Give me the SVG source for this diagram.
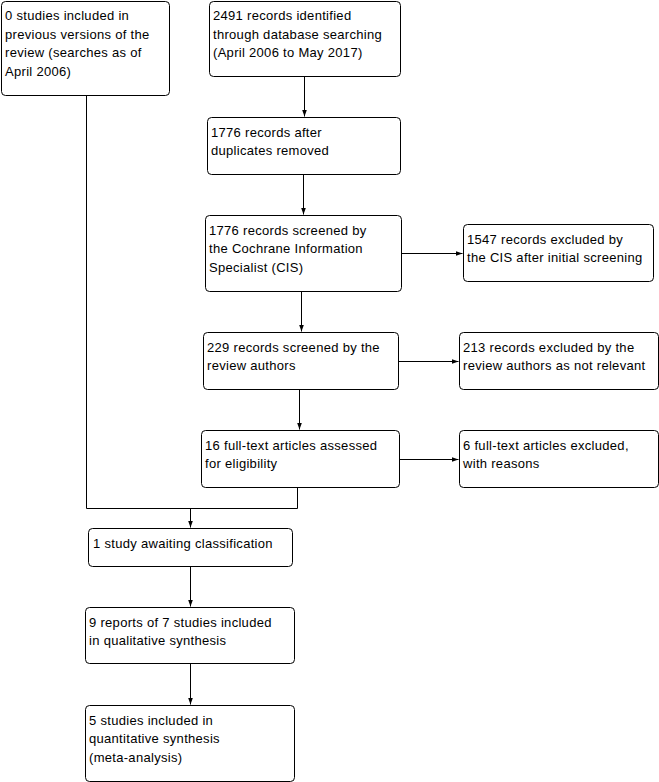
<svg xmlns="http://www.w3.org/2000/svg" width="659" height="782" viewBox="0 0 659 782">
<style>
rect{fill:#fff;stroke:#000;stroke-width:1}
text{font-family:"Liberation Sans",Arial,sans-serif;font-size:13px;fill:#000;letter-spacing:0.3px}
.c{fill:none;stroke:#000;stroke-width:1}
</style>
<defs>
<marker id="a" markerWidth="7" markerHeight="6" refX="7" refY="3" orient="auto" markerUnits="userSpaceOnUse">
<path d="M0,0.5 L7,3 L0,5.5 z" fill="#000"/>
</marker>
</defs>
<rect width="659" height="782" style="fill:#fff;stroke:none"/>
<g id="connectors">
<path class="c" d="M304.5,76.5 V116.5" marker-end="url(#a)"/>
<path class="c" d="M303.5,174.5 V214.5" marker-end="url(#a)"/>
<path class="c" d="M401.5,253.5 H462.5" marker-end="url(#a)"/>
<path class="c" d="M301.5,291.5 V331.5" marker-end="url(#a)"/>
<path class="c" d="M398.5,361.5 H458.5" marker-end="url(#a)"/>
<path class="c" d="M299.5,389.5 V429.5" marker-end="url(#a)"/>
<path class="c" d="M398.5,459.5 H458.5" marker-end="url(#a)"/>
<path class="c" d="M86.5,95.5 V508.5 H297.5 V487"/>
<path class="c" d="M190.5,508.5 V527.5" marker-end="url(#a)"/>
<path class="c" d="M190.5,566.5 V606.5" marker-end="url(#a)"/>
<path class="c" d="M190.5,663.5 V704.5" marker-end="url(#a)"/>
</g>
<g id="n1"><rect x="1.5" y="1.5" width="168" height="94" rx="4"/>
<text x="5" y="20">0 studies included in</text><text x="5" y="38.7">previous versions of the</text><text x="5" y="57.4">review (searches as of</text><text x="5" y="76.1">April 2006)</text></g>
<g id="n2"><rect x="209.5" y="1.5" width="191" height="75" rx="4"/>
<text x="213" y="20">2491 records identified</text><text x="213" y="38.7">through database searching</text><text x="213" y="57.4">(April 2006 to May 2017)</text></g>
<g id="n3"><rect x="207.5" y="117.5" width="193" height="57" rx="4"/>
<text x="211" y="136.5">1776 records after</text><text x="211" y="155.2">duplicates removed</text></g>
<g id="n4"><rect x="205.5" y="215.5" width="196" height="76" rx="4"/>
<text x="209" y="234.5">1776 records screened by</text><text x="209" y="253.2">the Cochrane Information</text><text x="209" y="271.9">Specialist (CIS)</text></g>
<g id="n5"><rect x="463.5" y="224.5" width="190" height="57" rx="4"/>
<text x="467" y="243.5">1547 records excluded by</text><text x="467" y="262.2">the CIS after initial screening</text></g>
<g id="n6"><rect x="203.5" y="332.5" width="195" height="57" rx="4"/>
<text x="207" y="351.5">229 records screened by the</text><text x="207" y="370.2">review authors</text></g>
<g id="n7"><rect x="459.5" y="332.5" width="199" height="57" rx="4"/>
<text x="463" y="351.5">213 records excluded by the</text><text x="463" y="370.2">review authors as not relevant</text></g>
<g id="n8"><rect x="201.5" y="430.5" width="198" height="57" rx="4"/>
<text x="205" y="449.5">16 full-text articles assessed</text><text x="205" y="468.2">for eligibility</text></g>
<g id="n9"><rect x="459.5" y="430.5" width="199" height="57" rx="4"/>
<text x="463" y="449.5">6 full-text articles excluded,</text><text x="463" y="468.2">with reasons</text></g>
<g id="n10"><rect x="88.5" y="528.5" width="204" height="38" rx="4"/>
<text x="93" y="547.5">1 study awaiting classification</text></g>
<g id="n11"><rect x="85.5" y="607.5" width="209" height="56" rx="4"/>
<text x="89" y="626.5">9 reports of 7 studies included</text><text x="89" y="645.2">in qualitative synthesis</text></g>
<g id="n12"><rect x="85.5" y="705.5" width="209" height="76" rx="4"/>
<text x="89" y="724.5">5 studies included in</text><text x="89" y="743.2">quantitative synthesis</text><text x="89" y="761.9">(meta-analysis)</text></g>
</svg>
